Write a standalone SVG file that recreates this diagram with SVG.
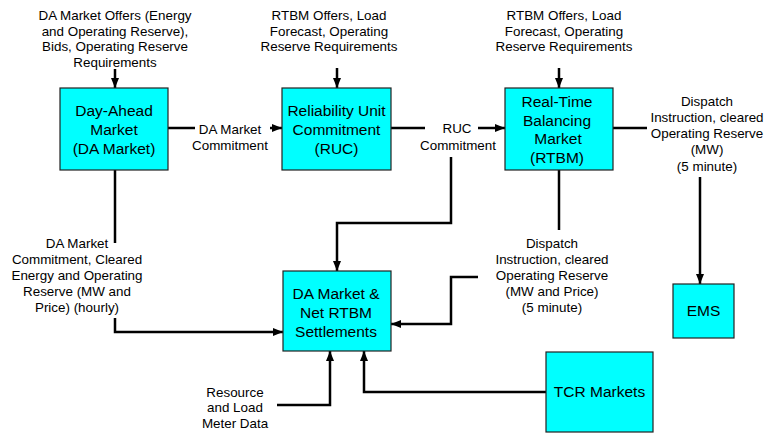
<svg xmlns="http://www.w3.org/2000/svg" width="766" height="433" viewBox="0 0 766 433">
<defs>
<marker id="ah" markerUnits="userSpaceOnUse" markerWidth="10" markerHeight="10" viewBox="0 0 10 10" refX="10" refY="5" orient="auto">
<path d="M0,1 L10,5 L0,9 Z" fill="#000"/>
</marker>
</defs>
<style>
.box{fill:#00FFFF;stroke:#222;stroke-width:1.2}
.bt{font-family:"Liberation Sans",Arial,sans-serif;font-size:15.5px;fill:#000;text-anchor:middle}
.lt{font-family:"Liberation Sans",Arial,sans-serif;font-size:13.4px;fill:#000;text-anchor:middle}
.c{fill:none;stroke:#000;stroke-width:2.5}
.a{marker-end:url(#ah)}
</style>
<rect width="766" height="433" fill="#fff"/>
<g id="connectors">
<path class="c a" d="M115,69 V88"/>
<path class="c a" d="M337,68 V88"/>
<path class="c a" d="M559,68 V88"/>
<path class="c" d="M168,128 H195"/>
<path class="c a" d="M270,128 H282"/>
<path class="c" d="M391,128 H425"/>
<path class="c a" d="M478,128 H505"/>
<path class="c a" d="M451,157 V223 H337 V271"/>
<path class="c" d="M613,128 H647"/>
<path class="c a" d="M700,177 V284"/>
<path class="c" d="M115,170 V243"/>
<path class="c a" d="M115,318 V332 H283"/>
<path class="c" d="M559,170 V230"/>
<path class="c a" d="M478,277 H451 V324 H391"/>
<path class="c a" d="M277,405 H330 V351"/>
<path class="c a" d="M546,392 H364 V351"/>
</g>
<g id="label-da-inputs">
<text class="lt"><tspan x="115" y="20">DA Market Offers (Energy</tspan><tspan x="115" y="35.5">and Operating Reserve),</tspan><tspan x="115" y="51">Bids, Operating Reserve</tspan><tspan x="115" y="66.5">Requirements</tspan></text>
</g>
<g id="label-ruc-inputs">
<text class="lt"><tspan x="329" y="20">RTBM Offers, Load</tspan><tspan x="329" y="35.5">Forecast, Operating</tspan><tspan x="329" y="51">Reserve Requirements</tspan></text>
</g>
<g id="label-rtbm-inputs">
<text class="lt"><tspan x="564" y="20">RTBM Offers, Load</tspan><tspan x="564" y="35.5">Forecast, Operating</tspan><tspan x="564" y="51">Reserve Requirements</tspan></text>
</g>
<g id="node-da">
<rect class="box" x="60" y="88" width="108" height="82"/>
<text class="bt"><tspan x="114" y="116">Day-Ahead</tspan><tspan x="114" y="135">Market</tspan><tspan x="114" y="154">(DA Market)</tspan></text>
</g>
<g id="node-ruc">
<rect class="box" x="282" y="88" width="109" height="82"/>
<text class="bt"><tspan x="336.5" y="116">Reliability Unit</tspan><tspan x="336.5" y="135">Commitment</tspan><tspan x="336.5" y="154">(RUC)</tspan></text>
</g>
<g id="node-rtbm">
<rect class="box" x="505" y="88" width="108" height="82"/>
<text class="bt"><tspan x="557" y="107">Real-Time</tspan><tspan x="557" y="125.5">Balancing</tspan><tspan x="558" y="144">Market</tspan><tspan x="557" y="162.5">(RTBM)</tspan></text>
</g>
<g id="label-da-commitment">
<text class="lt"><tspan x="230" y="134">DA Market</tspan><tspan x="230" y="150">Commitment</tspan></text>
</g>
<g id="label-ruc-commitment">
<text class="lt"><tspan x="457" y="133">RUC</tspan><tspan x="458" y="150">Commitment</tspan></text>
</g>
<g id="label-dispatch-ems">
<text class="lt"><tspan x="707" y="106">Dispatch</tspan><tspan x="707" y="122">Instruction, cleared</tspan><tspan x="707" y="138">Operating Reserve</tspan><tspan x="707" y="154">(MW)</tspan><tspan x="707" y="171">(5 minute)</tspan></text>
</g>
<g id="label-da-settle">
<text class="lt"><tspan x="77" y="248">DA Market</tspan><tspan x="77" y="264">Commitment, Cleared</tspan><tspan x="77" y="280">Energy and Operating</tspan><tspan x="77" y="296">Reserve (MW and</tspan><tspan x="77" y="312">Price) (hourly)</tspan></text>
</g>
<g id="label-dispatch-settle">
<text class="lt"><tspan x="552" y="248">Dispatch</tspan><tspan x="552" y="264">Instruction, cleared</tspan><tspan x="552" y="280">Operating Reserve</tspan><tspan x="552" y="296">(MW and Price)</tspan><tspan x="552" y="312">(5 minute)</tspan></text>
</g>
<g id="label-meter">
<text class="lt"><tspan x="235" y="397">Resource</tspan><tspan x="235" y="412">and Load</tspan><tspan x="235" y="428">Meter Data</tspan></text>
</g>
<g id="node-settlements">
<rect class="box" x="283" y="271" width="108" height="80"/>
<text class="bt"><tspan x="336" y="299">DA Market &amp;</tspan><tspan x="336" y="318">Net RTBM</tspan><tspan x="336" y="337">Settlements</tspan></text>
</g>
<g id="node-ems">
<rect class="box" x="673" y="284" width="61" height="54"/>
<text class="bt" x="703.5" y="316">EMS</text>
</g>
<g id="node-tcr">
<rect class="box" x="546" y="352" width="107" height="80"/>
<text class="bt" x="599.5" y="397">TCR Markets</text>
</g>
</svg>
